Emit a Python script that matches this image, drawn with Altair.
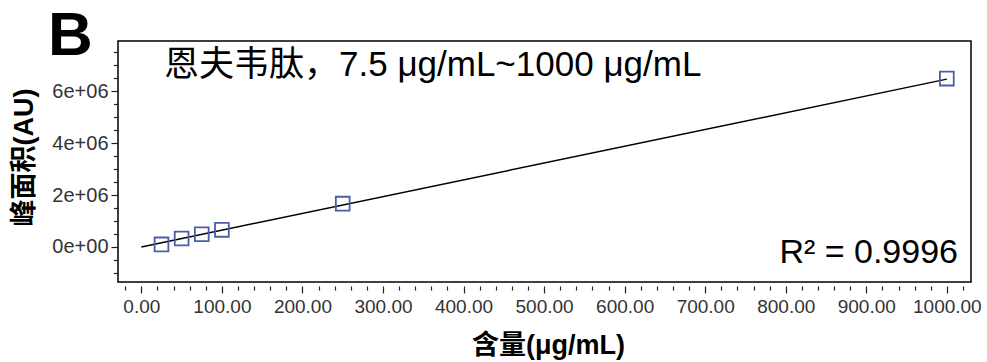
import altair as alt
import pandas as pd

# ---- data ----
conc = [25, 50, 75, 100, 250, 1000]
area = [1.0e5, 3.3e5, 4.9e5, 6.6e5, 1.67e6, 6.49e6]
fit_x = [0, 1000]
fit_y = [0, 6.47e6]

x_major = [0, 100, 200, 300, 400, 500, 600, 700, 800, 900, 1000]
x_minor = [v for v in range(-20, 1021, 20) if v % 100]
y_major = [0, 2000000, 4000000, 6000000]
y_minor = [-1000000, -500000, 500000, 1000000, 1500000, 2500000, 3000000,
           3500000, 4500000, 5000000, 5500000, 6500000, 7000000, 7500000]

annotation = "恩夫韦肽，7.5 μg/mL~1000 μg/mL"
r2_text = "R² = 0.9996"
x_title = "含量(μg/mL)"
y_title = "峰面积(AU)"
panel = "B"

pts = pd.DataFrame({"conc": conc, "area": area})
fit = pd.DataFrame({"conc": fit_x, "area": fit_y})

LAT = "Liberation Sans, Arial, Noto Sans CJK SC"
xs = alt.Scale(domain=[-29, 1030], nice=False, zero=False)
ys = alt.Scale(domain=[-1350000, 7940000], nice=False, zero=False)

x_major_axis = alt.Axis(
    orient="bottom", values=x_major, format=".2f", grid=False, domain=False,
    offset=4, tickSize=7, tickColor="#222", tickWidth=1.2,
    labelFont=LAT, labelFontSize=19, labelColor="#333", labelPadding=4,
    title=x_title, titleFont=LAT, titleFontSize=27, titleFontWeight="bold",
    titleColor="#000", titleX=430, titleY=59, titleBaseline="middle", titleAlign="center",
)
x_minor_axis = alt.Axis(
    orient="bottom", values=x_minor, labels=False, grid=False, domain=False,
    offset=4, tickSize=4, tickColor="#222", tickWidth=1.2, title=None,
)
y_major_axis = alt.Axis(
    orient="left", values=y_major, grid=False, domain=False,
    tickSize=7, tickColor="#222", tickWidth=1.2,
    labelExpr="datum.value == 0 ? '0e+00' : format(datum.value / 1000000, 'd') + 'e+06'",
    labelFont=LAT, labelFontSize=20, labelColor="#333", labelPadding=3,
    title=y_title, titleFont=LAT, titleFontSize=27, titleFontWeight="bold",
    titleColor="#000", titleAngle=-90, titleX=-94, titleY=116,
    titleBaseline="middle", titleAlign="center",
)
y_minor_axis = alt.Axis(
    orient="left", values=y_minor, labels=False, grid=False, domain=False,
    tickSize=4.5, tickColor="#222", tickWidth=1.2, title=None,
)

line = alt.Chart(fit).mark_line(color="#000", strokeWidth=1.5).encode(
    x=alt.X("conc:Q", scale=xs, axis=x_major_axis),
    y=alt.Y("area:Q", scale=ys, axis=y_major_axis),
)
points = alt.Chart(pts).mark_point(
    shape="square", filled=False, size=190, strokeWidth=1.8, color="#4B5EA6", opacity=1
).encode(
    x=alt.X("conc:Q", scale=xs, axis=x_minor_axis),
    y=alt.Y("area:Q", scale=ys, axis=y_minor_axis),
)
ann = alt.Chart(pd.DataFrame({"t": [annotation]})).mark_text(
    align="left", baseline="middle", font=LAT, fontSize=35, color="#000"
).encode(text="t:N", x=alt.value(46), y=alt.value(24))
r2 = alt.Chart(pd.DataFrame({"t": [r2_text]})).mark_text(
    align="right", baseline="alphabetic", font=LAT, fontSize=34, color="#000"
).encode(text="t:N", x=alt.value(840), y=alt.value(222))
tag = alt.Chart(pd.DataFrame({"t": [panel]})).mark_text(
    align="left", baseline="alphabetic", font=LAT, fontSize=62,
    fontWeight="bold", color="#000"
).encode(text="t:N", x=alt.value(-70), y=alt.value(14))

chart = alt.layer(line, points, ann, r2, tag).resolve_axis(
    x="independent", y="independent"
).properties(
    width=853, height=241,
    autosize=alt.AutoSizeParams(type="none"),
    padding={"left": 118, "top": 41, "right": 16, "bottom": 80},
).configure_view(stroke="#000", strokeWidth=1.5)

chart.save("out.html", embed_options={"renderer": "svg", "actions": False})
